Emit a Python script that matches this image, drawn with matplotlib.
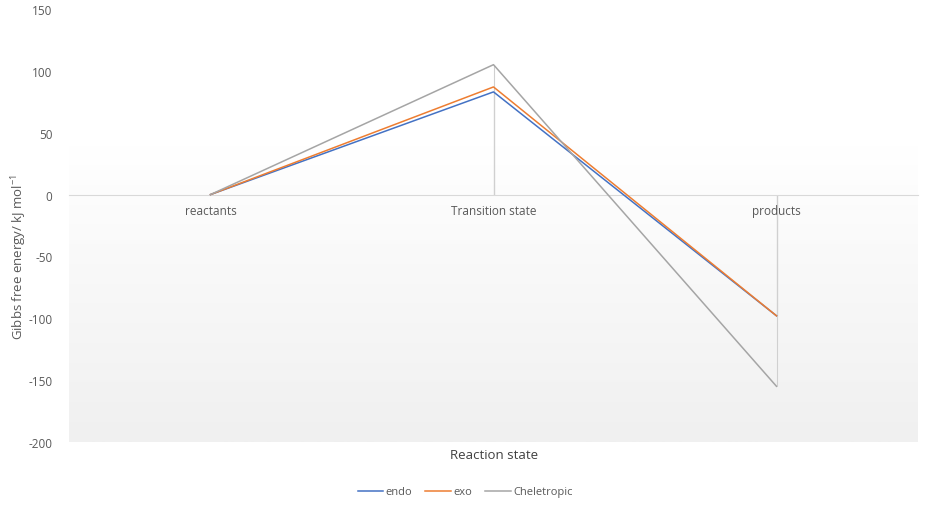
import numpy as np
import matplotlib
matplotlib.use('Agg')
import matplotlib.pyplot as plt
from matplotlib.colors import LinearSegmentedColormap

plt.rcParams['font.family'] = ['Open Sans', 'DejaVu Sans']
plt.rcParams['axes.unicode_minus'] = False

# Data
states = ['reactants', 'Transition state', 'products']
endo = [0, 83, -98]
exo = [0, 87, -98]
cheletropic = [0, 105, -155]

series = [
    ('endo', endo, '#4472C4'),
    ('exo', exo, '#ED7D31'),
    ('Cheletropic', cheletropic, '#A5A5A5'),
]

fig = plt.figure(figsize=(9.26, 5.06), dpi=100)
ax = fig.add_axes([69 / 926, 1 - 443 / 506, 849 / 926, 433 / 506])

x = np.arange(len(states)) + 0.5

# Soft gradient fill of the plot area
cmap = LinearSegmentedColormap.from_list('bg', ['#ffffff', '#f0f0f0'])
grad = np.linspace(0, 1, 256).reshape(-1, 1)
ax.imshow(grad, cmap=cmap, aspect='auto', extent=[0, 3, -200, 40],
          origin='upper', zorder=0)

# Drop lines from the category axis to each point
for name, vals, color in series:
    ax.vlines(x, 0, vals, color='#d0d0d0', lw=0.8, zorder=1)

for name, vals, color in series:
    ax.plot(x, vals, color=color, lw=1.1, label=name, zorder=3)

ax.set_xlim(0, 3)
ax.set_ylim(-200, 150)
ax.set_yticks(range(-200, 151, 50))
ax.set_xticks(x)
ax.set_xticklabels(states)

for side in ['top', 'right', 'left']:
    ax.spines[side].set_visible(False)
ax.spines['bottom'].set_position(('data', 0))
ax.spines['bottom'].set_color('#d9d9d9')
ax.spines['bottom'].set_zorder(2)

ax.tick_params(axis='both', length=0, labelsize=8.5, labelcolor='#595959')
ax.tick_params(axis='x', pad=7)
ax.tick_params(axis='y', pad=12)

ax.set_ylabel(r'Gibbs free energy/ kJ mol$^{\mathregular{-1}}$', fontsize=9.5, color='#595959')
ax.yaxis.set_label_coords(-0.047, 0.43)

fig.text(494 / 926, 1 - 456 / 506, 'Reaction state', ha='center', va='center',
         fontsize=9.5, color='#404040')

fig.legend(loc='center', bbox_to_anchor=(465 / 926, 1 - 493 / 506), ncol=3,
           frameon=False, fontsize=8, handlelength=2.3, columnspacing=1.2,
           handletextpad=0.2, labelcolor='#595959')

fig.savefig('out.png', dpi=100)
